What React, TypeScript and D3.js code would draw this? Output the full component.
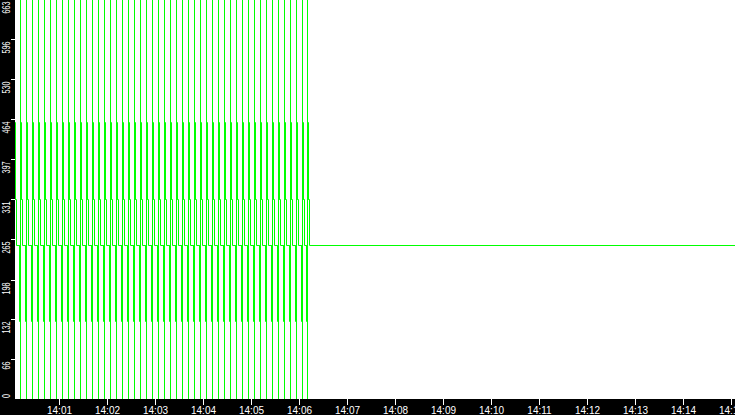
import * as d3 from "d3";

// levels of the trace
const restLevel = 256;
const pulseLevels = [129, 256, 663, 0, 331, 459, 331, 256];
// seconds after each pulse start at which the level above is reached
const pulseOffsets = [0, 0.2, 1.25, 1.4, 1.55, 2.5, 2.7, 3.75];
// pulse start times, seconds after 14:00:00
const pulseTimes = [
  2.5, 10, 17.5, 25, 32.5, 40, 47.5, 55, 62.5, 70, 77.5, 85, 92.5, 100, 107.5,
  115, 122.5, 130, 137.5, 145, 152.5, 160, 167.5, 175, 182.5, 190, 197.5, 205,
  212.5, 220, 227.5, 235, 242.5, 250, 257.5, 265, 272.5, 280, 287.5, 295, 302.5,
  310, 317.5, 325, 332.5, 340, 347.5, 355, 362.5, 369,
];
const windowStart = 5; // s after 14:00:00
const windowEnd = 905;

const yTicks = [0, 66, 132, 198, 265, 331, 397, 464, 530, 596, 663];
const xTickLabels = [
  "14:01", "14:02", "14:03", "14:04", "14:05", "14:06", "14:07", "14:08",
  "14:09", "14:10", "14:11", "14:12", "14:13", "14:14", "14:15",
];

const BASE = new Date(2024, 0, 1, 14, 0, 0).getTime();
const at = (s: number) => new Date(BASE + s * 1000);

type Pt = [Date, number];

export default function App() {
  const width = 735;
  const height = 415;
  const left = 15;
  const bottom = 399;

  const x = d3.scaleTime().domain([at(windowStart), at(windowEnd)]).range([left, width]);
  const y = d3.scaleLinear().domain([0, 663]).range([bottom, -1]);

  const points: Pt[] = [[at(0), restLevel]];
  pulseTimes.forEach((p) => {
    pulseLevels.forEach((v, j) => points.push([at(p + pulseOffsets[j]), v]));
  });
  points.push([at(windowEnd), restLevel]);

  // snap to pixel centres so the 1px trace stays solid green
  const line = d3
    .line<Pt>()
    .x((d) => Math.round(x(d[0]) + 1e-6) + 0.5)
    .y((d) => Math.round(y(d[1])) + 0.5)
    .curve(d3.curveStepAfter);

  const font = "'Liberation Sans', Arial, sans-serif";

  return (
    <svg
      width={width}
      height={height}
      style={{ position: "absolute", left: 0, top: 0, background: "#fff" }}
    >
      <defs>
        <clipPath id="plot">
          <rect x={left} y={-2} width={width - left} height={bottom + 2} />
        </clipPath>
      </defs>
      <rect x={0} y={0} width={width} height={height} fill="#fff" />
      <path
        d={line(points) ?? ""}
        fill="none"
        stroke="#00ff00"
        strokeWidth={1}
        clipPath="url(#plot)"
      />

      {/* left axis */}
      <rect x={0} y={0} width={left} height={height} fill="#000" />
      {yTicks.map((v, i) => {
        const yy = Math.round(y(v)) + 0.5;
        const first = i === 0;
        return (
          <g key={v}>
            <line x1={11} x2={left} y1={yy} y2={yy} stroke="#fff" />
            <text
              transform={`translate(10,${first ? bottom - 1 : yy + 2}) rotate(-90)`}
              textAnchor={first ? "start" : "end"}
              fill="#fff"
              fontSize={10.5}
              fontFamily={font}
              textLength={String(v).length * 4}
              lengthAdjust="spacingAndGlyphs"
            >
              {v}
            </text>
          </g>
        );
      })}

      {/* bottom axis */}
      <rect x={0} y={bottom} width={width} height={height - bottom} fill="#000" />
      {xTickLabels.map((lab) => {
        const [h, m] = lab.split(":").map(Number);
        const xx = Math.round(x(at((h - 14) * 3600 + m * 60))) + 0.5;
        return (
          <g key={lab}>
            <line x1={xx} x2={xx} y1={bottom} y2={bottom + 6} stroke="#fff" />
            <text x={xx} y={414} textAnchor="middle" fill="#fff" fontSize={10} fontFamily={font}>
              {lab}
            </text>
          </g>
        );
      })}
    </svg>
  );
}
